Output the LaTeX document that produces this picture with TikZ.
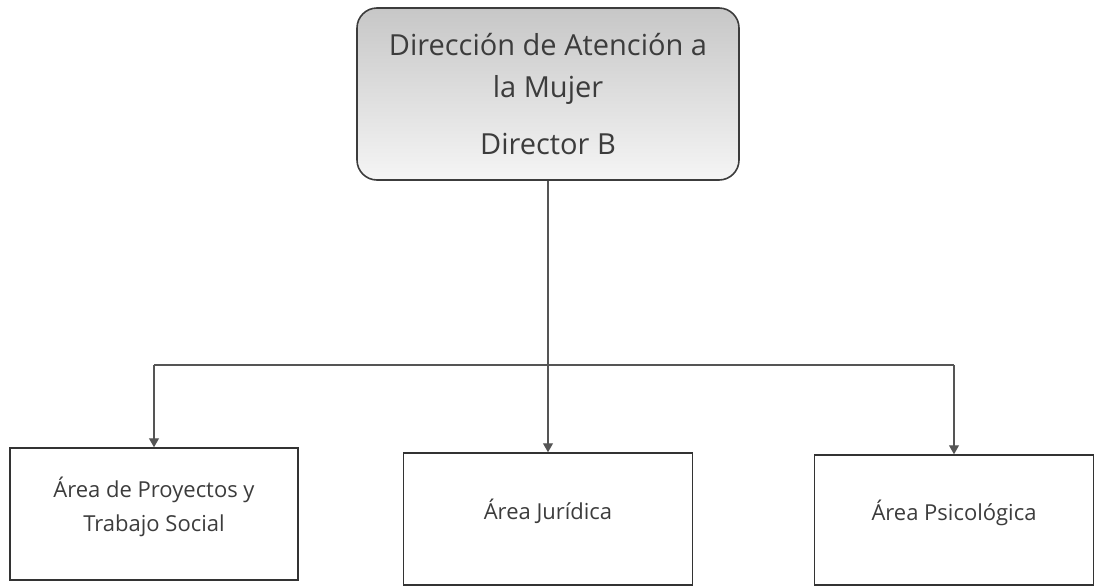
\documentclass[tikz,border=0pt]{standalone}
\usepackage{fontspec}
\setmainfont{Open Sans}
\usetikzlibrary{arrows.meta}
\tikzset{>={Triangle[width=10pt,length=9pt]}}
\definecolor{inkgray}{HTML}{3C3C3C}
\definecolor{linegray}{HTML}{555555}
\tikzset{
  headbox/.style={draw=inkgray, line width=1.6pt, rounded corners=20pt,
    top color=black!22, bottom color=black!4, text=inkgray, align=center,
    minimum width=382pt, minimum height=172pt, inner sep=0pt,
    font=\fontsize{29}{42}\selectfont},
  areabox/.style={draw=black!80, line width=1.5pt, text=inkgray, align=center,
    minimum height=132pt, inner sep=0pt, text depth=20pt,
    font=\fontsize{22}{34}\selectfont},
  link/.style={draw=linegray, line width=1.1pt}
}

\begin{document}
\begin{tikzpicture}[x=1pt, y=-1pt]
      \useasboundingbox (0, 0) rectangle (1095, 587);
      \node[headbox] (dir) at (548, 94) {Dirección de Atención a\\ la Mujer\\[15pt] Director B};
      \node[areabox, minimum width=288pt] (proy) at (154, 514) {Área de Proyectos y\\ Trabajo Social};
      \node[areabox, minimum width=289pt] (jur) at (548, 519) {Área Jurídica};
      \node[areabox, minimum width=279pt, minimum height=130pt] (psi) at (954, 520) {Área Psicológica};
      \coordinate (busL) at (154, 365);
      \coordinate (busR) at (954, 365);
      \draw[link] (busL) -- (busR);
      \draw[link, ->] (dir) -- (jur);
      \draw[link, ->] (busL) -- (proy);
      \draw[link, ->] (busR) -- (psi);
    \end{tikzpicture}
\end{document}
